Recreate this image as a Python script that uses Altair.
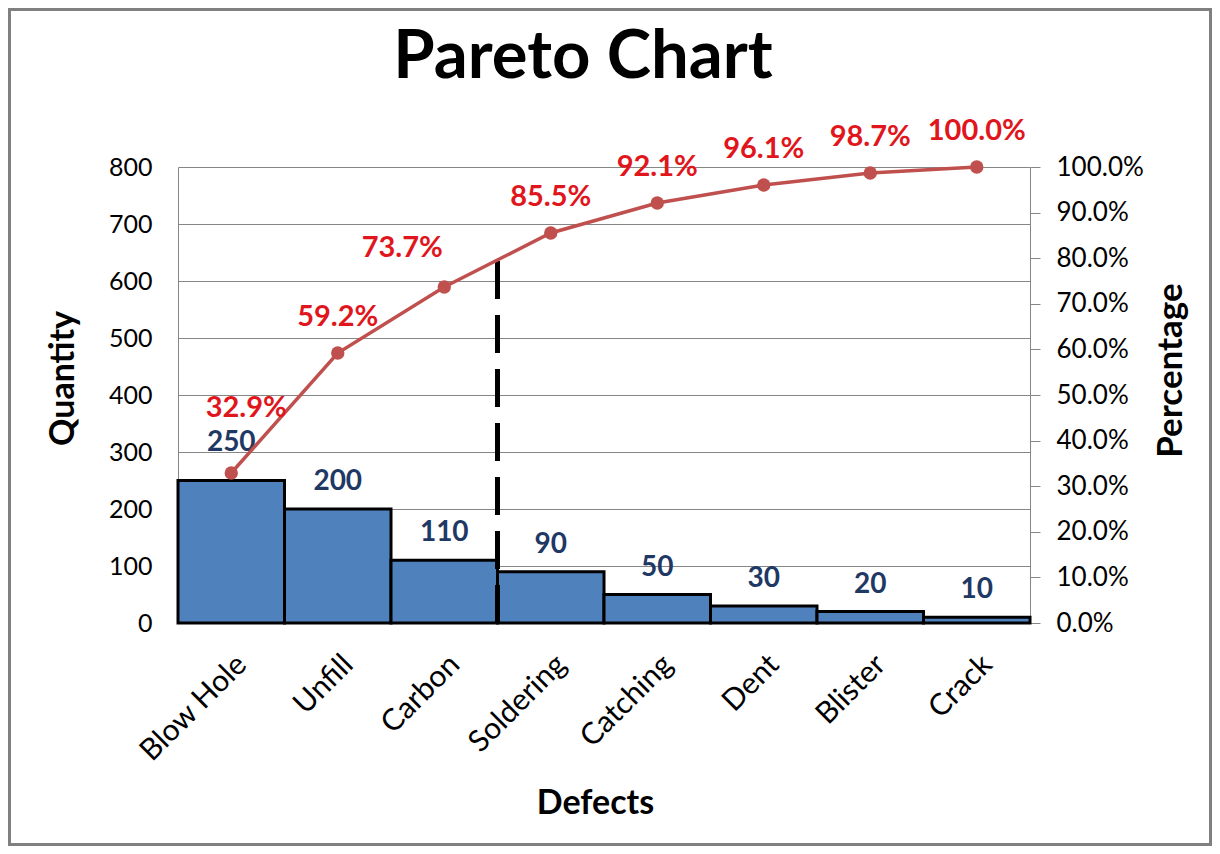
import altair as alt
import pandas as pd

# defects, counts and axis ticks
categories = ["Blow Hole", "Unfill", "Carbon", "Soldering", "Catching", "Dent", "Blister", "Crack"]
quantity = [250, 200, 110, 90, 50, 30, 20, 10]
qty_ticks = [0, 100, 200, 300, 400, 500, 600, 700, 800]
pct_ticks = [0, 0.1, 0.2, 0.3, 0.4, 0.5, 0.6, 0.7, 0.8, 0.9, 1.0]
threshold = 0.8
chart_title = "Pareto Chart"

FONT = "Lato"
BAR_BLUE = "#4F81BD"
LINE_RED = "#C0504D"
PCT_RED = "#E0161C"
NAVY = "#1F3864"
GRID = "#868686"

df = pd.DataFrame({"defect": categories, "quantity": quantity})
df["pct"] = df["quantity"].cumsum() / df["quantity"].sum()
df["pct_label"] = (df["pct"] * 100).map(lambda v: f"{v:.1f}%")

# the dashed marker sits where the cumulative share first passes 80 %
cut = df[df["pct"] >= threshold].iloc[0]["defect"]
cutoff = pd.DataFrame({"defect": [cut], "pct": [0.0], "end": [threshold]})
frame = pd.DataFrame({"title": [chart_title]})

x_axis = alt.Axis(
    title="Defects", labelAngle=-45, labelFontSize=30, labelColor="black",
    labelPadding=26, ticks=False, domainColor=GRID, titleFontSize=34,
    titleFontWeight="bold", titleColor="black", titlePadding=20, titleX=417,
    labelFont=FONT, titleFont=FONT,
)
x_enc = alt.X("defect:N", sort=categories,
              scale=alt.Scale(paddingInner=0, paddingOuter=0), axis=x_axis)

qty_axis = alt.Axis(
    title="Quantity", values=qty_ticks, ticks=False, domainColor=GRID,
    gridColor=GRID, labelFontSize=25, labelColor="black", labelPadding=26,
    titleFontSize=34, titleFontWeight="bold", titleColor="black",
    titlePadding=28, titleY=211, labelFont=FONT, titleFont=FONT,
)
pct_axis = alt.Axis(
    title="Percentage", orient="right", values=pct_ticks, format=".1%",
    grid=False, domainColor=GRID, tickColor=GRID, tickSize=10,
    labelFontSize=26, labelColor="black", labelPadding=16,
    titleFontSize=35, titleFontWeight="bold", titleColor="black",
    titleAngle=270, titleBaseline="top", titlePadding=10, titleY=203,
    labelFont=FONT, titleFont=FONT,
)
y_qty = alt.Y("quantity:Q", scale=alt.Scale(domain=[0, 800], nice=False), axis=qty_axis)
y_pct = alt.Y("pct:Q", scale=alt.Scale(domain=[0, 1], nice=False), axis=pct_axis)

base = alt.Chart(df)

bars = base.mark_bar(color=BAR_BLUE, stroke="black", strokeWidth=3).encode(x=x_enc, y=y_qty)


def qty_text(data, dy):
    return alt.Chart(data).mark_text(
        font=FONT, fontSize=28, fontWeight="bold", color=NAVY, dy=dy
    ).encode(x=x_enc, y=y_qty, text="quantity:Q")


bar_labels = qty_text(df.iloc[1:], -27) + qty_text(df.iloc[:1], -38)

# light grey border round the whole picture, and the big heading
frame_rect = alt.Chart(frame).mark_rect(fill=None, stroke="#808080", strokeWidth=3).encode(
    x=alt.value(-168.5), x2=alt.value(1032.5), y=alt.value(-157.5), y2=alt.value(677.5)
)
heading = alt.Chart(frame).mark_text(
    font=FONT, fontSize=67, fontWeight="bold", color="black",
    align="center", baseline="alphabetic",
).encode(x=alt.value(405), y=alt.value(-89), text="title:N")

left = alt.layer(bars, bar_labels, frame_rect, heading)

line = base.mark_line(color=LINE_RED, strokeWidth=3.5).encode(x=x_enc, y=y_pct)
points = base.mark_circle(color=LINE_RED, size=180, opacity=1).encode(x=x_enc, y=y_pct)


def pct_text(data, dx, dy):
    return alt.Chart(data).mark_text(
        font=FONT, fontSize=29, fontWeight="bold", color=PCT_RED, dx=dx, dy=dy
    ).encode(x=x_enc, y=y_pct, text="pct_label:N")


pct_labels = (
    pct_text(df[df["defect"] == categories[0]], 15, -65)
    + pct_text(df[df["defect"] == categories[2]], -42, -39)
    + pct_text(df[~df["defect"].isin([categories[0], categories[2]])], 0, -36)
)

rule = alt.Chart(cutoff).mark_rule(color="black", strokeWidth=5, strokeDash=[38, 16]).encode(
    x=alt.X("defect:N", sort=categories, bandPosition=0,
            scale=alt.Scale(paddingInner=0, paddingOuter=0), axis=x_axis),
    y=y_pct,
    y2="end:Q",
)

right = alt.layer(rule, line, points, pct_labels)

chart = (
    alt.layer(left, right)
    .resolve_scale(y="independent")
    .properties(
        width=852,
        height=456,
        autosize=alt.AutoSizeParams(type="none"),
        padding={"left": 170, "top": 159, "right": 182, "bottom": 223},
    )
    .configure(background="white")
    .configure_view(stroke=None)
)

chart.save("out.html", embed_options={"renderer": "svg", "actions": False})
